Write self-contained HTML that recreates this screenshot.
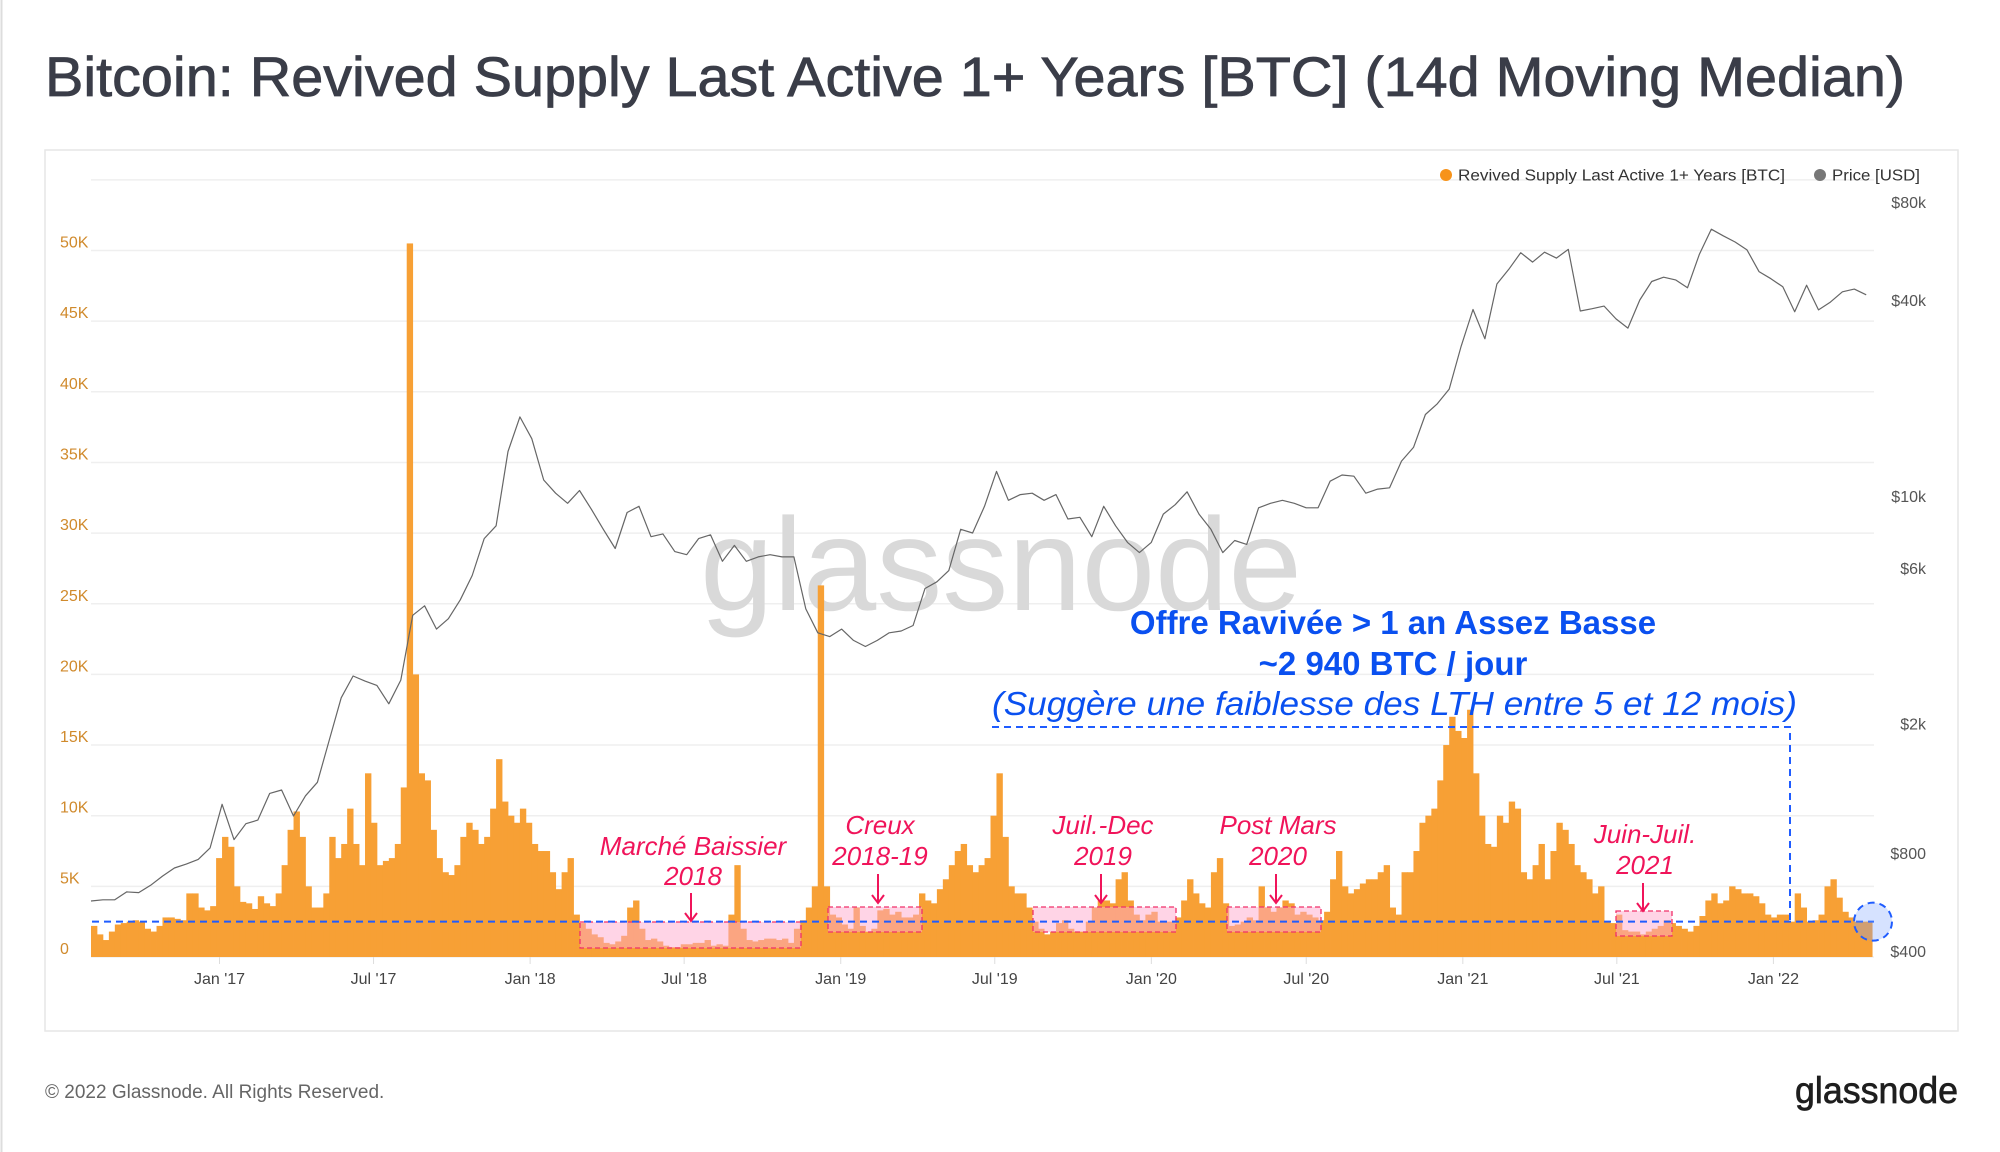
<!DOCTYPE html>
<html><head><meta charset="utf-8"><style>
html,body{margin:0;padding:0;background:#fff;}
svg{display:block;font-family:"Liberation Sans",sans-serif;}
</style></head><body>
<svg id="chart" width="2000" height="1152" viewBox="0 0 2000 1152" xmlns="http://www.w3.org/2000/svg">
<rect x="0" y="0" width="2000" height="1152" fill="#fff"/>
<line x1="1.5" y1="0" x2="1.5" y2="1152" stroke="#ddd" stroke-width="2"/>
<text x="45" y="96" font-size="56" fill="#3a3d48" stroke="#3a3d48" stroke-width="0.8" textLength="1860" lengthAdjust="spacingAndGlyphs">Bitcoin: Revived Supply Last Active 1+ Years [BTC] (14d Moving Median)</text>
<rect x="45" y="150" width="1913" height="881" fill="none" stroke="#e6e6e6" stroke-width="1.5"/>
<g id="grid"></g>
<text x="1001" y="610" font-size="132" fill="#d9d9d9" text-anchor="middle">glassnode</text>
<g id="bars"></g>
<g id="price"></g>
<g id="axes"></g>
<g id="annot"></g>
<g>
<circle cx="1446" cy="175" r="6" fill="#f7931a"/>
<text x="1458" y="180.5" font-size="15.5" fill="#333" textLength="327" lengthAdjust="spacingAndGlyphs">Revived Supply Last Active 1+ Years [BTC]</text>
<circle cx="1820" cy="175" r="6" fill="#777"/>
<text x="1832" y="180.5" font-size="15.5" fill="#333" textLength="88" lengthAdjust="spacingAndGlyphs">Price [USD]</text>
</g>
<text x="45" y="1098" font-size="19" fill="#666">© 2022 Glassnode. All Rights Reserved.</text>
<text x="1958" y="1103" font-size="37" fill="#1e1e1e" stroke="#1e1e1e" stroke-width="0.7" text-anchor="end" textLength="163" lengthAdjust="spacingAndGlyphs">glassnode</text>
</svg>
<script>
// weekly revived supply (K BTC), starting 2016-08-03
const supplyK = [2.2,1.6,1.2,1.8,2.3,2.4,2.5,2.6,2.5,2.0,1.8,2.2,2.8,2.8,2.7,2.6,4.5,4.5,3.5,3.3,3.6,7.0,8.5,7.8,5.0,3.9,3.8,3.4,4.3,3.8,3.6,4.5,6.5,9.0,10.3,8.5,5.0,3.5,3.5,4.5,8.5,7.0,8.0,10.5,8.0,6.5,13.0,9.5,6.5,6.8,7.0,8.0,12.0,50.5,20.0,13.0,12.5,9.0,7.0,6.0,5.8,6.5,8.5,9.5,9.0,8.0,8.5,10.5,14.0,11.0,10.0,9.5,10.5,9.5,8.0,7.5,7.5,6.0,4.8,6.0,7.0,3.0,2.4,2.0,1.6,1.4,1.0,0.9,1.1,1.5,3.5,4.0,2.0,1.2,1.3,1.1,0.8,0.7,0.7,0.9,0.9,1.0,1.0,1.2,
0.8,0.9,0.8,3.0,6.5,2.0,1.2,1.1,1.2,1.3,1.3,1.2,1.3,1.0,2.0,2.6,3.5,5.0,26.3,5.0,3.0,2.8,2.3,2.0,3.5,2.2,1.8,2.0,3.3,3.4,3.0,3.2,2.8,2.8,3.0,4.5,4.0,3.8,4.8,5.5,6.5,7.5,8.0,6.5,6.0,6.5,7.0,10.0,13.0,8.5,5.0,4.5,4.5,3.5,2.5,2.0,1.6,1.8,2.4,2.6,2.0,1.8,1.8,2.5,3.5,4.0,4.0,3.8,5.5,6.0,4.0,3.0,2.6,3.0,3.2,2.5,2.5,2.5,2.8,4.0,5.5,4.5,3.8,3.5,6.0,7.0,3.8,2.2,2.3,2.5,2.8,2.6,5.0,3.5,3.2,3.5,4.0,3.8,3.0,3.2,3.0,2.8,
2.6,3.2,5.5,7.5,5.0,4.5,4.8,5.2,5.5,5.5,6.0,6.5,3.5,3.0,6.0,6.0,7.5,9.5,10.0,10.5,12.5,15.0,17.0,16.0,15.5,17.5,13.0,10.0,8.0,7.8,10.0,9.5,11.0,10.5,6.0,5.5,6.5,8.0,5.5,7.5,9.5,9.0,8.0,6.5,6.0,5.5,4.5,5.0,2.5,2.4,3.0,1.9,1.8,1.8,1.6,1.8,2.0,2.2,2.6,2.4,2.2,2.0,1.8,2.2,2.9,4.0,4.5,3.8,4.0,5.0,4.8,4.5,4.5,4.3,3.8,3.0,2.8,3.0,3.0,2.5,4.5,3.5,2.5,2.6,3.0,5.0,5.5,4.2,3.2,2.8,2.5,2.5,2.5];
// biweekly price (USD), starting 2016-08-03
const priceUSD = [570,575,575,608,605,637,680,720,740,765,830,
1130,880,985,1010,1220,1250,1040,1200,1320,1780,2400,2800,2700,2620,2300,2720,4300,4600,3900,4200,4800,5700,7400,8100,13700,17500,
15000,11200,10200,9500,10400,9100,7900,6900,8900,9300,7500,7650,6750,6600,7400,7600,6300,7050,6300,6500,6600,6500,6500,4500,3800,3700,
3900,3600,3450,3600,3800,3850,4000,5200,5450,5900,7900,7700,9300,11900,9700,10100,10200,9700,10100,8500,8600,7500,9300,8100,7200,6700,
7200,8800,9400,10300,8800,7900,6700,7300,7100,9200,9500,9700,9500,9200,9200,11100,11600,11500,10200,10500,10600,12800,14100,17800,19200,21300,28800,
37400,30400,44800,49700,55900,52300,56100,53800,57200,37000,37600,38300,35000,32800,40000,45600,47000,46100,43600,55300,66000,63000,60300,57000,48900,46500,
43900,36800,44400,37300,39400,42400,43200,41500];
const leftTicks = [0,5,10,15,20,25,30,35,40,45,50];
const leftTickLabels = ["0","5K","10K","15K","20K","25K","30K","35K","40K","45K","50K"];
const rightTicks = [80000,40000,10000,6000,2000,800,400];
const rightTickLabels = ["$80k","$40k","$10k","$6k","$2k","$800","$400"];
const xTickDays = [151,332,516,697,881,1062,1246,1428,1612,1793,1977];
const xTickLabels = ["Jan '17","Jul '17","Jan '18","Jul '18","Jan '19","Jul '19","Jan '20","Jul '20","Jan '21","Jul '21","Jan '22"];
const thresholdK = 2.5;

const NS="http://www.w3.org/2000/svg";
const X0=91, PXDAY=0.851, Y0=957, PXK=14.13;
function xScale(day){return X0+day*PXDAY;}
function yLeft(k){return Y0-k*PXK;}
function yRight(p){return 300-98*Math.log2(p/40000);}
function mk(tag,attrs,parent){const e=document.createElementNS(NS,tag);for(const k in attrs)e.setAttribute(k,attrs[k]);parent.appendChild(e);return e;}

const grid=document.getElementById('grid');
for(let v=0;v<=55;v+=5){
  const l=mk('line',{x1:91,x2:1874,y1:yLeft(v),y2:yLeft(v),stroke:'#efefef','stroke-width':1.5},grid);
  
  
}
const axes=document.getElementById('axes');
leftTicks.forEach((v,i)=>{
  const t=mk('text',{x:60,y:yLeft(v)-3,'font-size':16,fill:'#d08a2c'},axes);
  t.textContent=leftTickLabels[i];
  
  
});
rightTicks.forEach((v,i)=>{
  const t=mk('text',{x:1926,y:yRight(v)+6,'font-size':16,fill:'#555','text-anchor':'end'},axes);
  t.textContent=rightTickLabels[i];
  
  
});
xTickDays.forEach((d,i)=>{
  const t=mk('text',{x:xScale(d),y:984,'font-size':16,fill:'#444','text-anchor':'middle'},axes);
  t.textContent=xTickLabels[i];
  
  
  const tk=mk('line',{x1:xScale(d),x2:xScale(d),y1:957,y2:964,stroke:'#ddd'},axes);
  
  
});

const bars=document.getElementById('bars');
const bw=7*PXDAY;
supplyK.forEach((v,i)=>{
  const x=xScale(i*7);
  const r=mk('rect',{x:x.toFixed(2),y:yLeft(v).toFixed(2),width:(bw+0.4).toFixed(2),height:(v*PXK).toFixed(2),fill:'#f7a035'},bars);
  
  
});

const pg=document.getElementById('price');
const pts=priceUSD.map((p,i)=>xScale(i*14).toFixed(1)+','+yRight(p).toFixed(1)).join(' ');
const pl=mk('polyline',{points:pts,fill:'none',stroke:'#666','stroke-width':1.2,'stroke-linejoin':'round'},pg);



const an=document.getElementById('annot');
const boxes=[[580,801,922,948],[828,922,907,932],[1033,1176,907,932],[1227,1321,907,932],[1616,1672,911,936]];
boxes.forEach(b=>{
  const r=mk('rect',{x:b[0],y:b[2],width:b[1]-b[0],height:b[3]-b[2],fill:'rgba(255,170,205,0.5)',stroke:'#f0306a','stroke-width':1.3,'stroke-dasharray':'5,3'},an);
  
  
});
const thr=mk('line',{x1:92,x2:1874,y1:yLeft(thresholdK),y2:yLeft(thresholdK),stroke:'#1f5cff','stroke-width':2,'stroke-dasharray':'7,5'},an);


const bx=mk('polyline',{points:'992,727 1790,727 1790,'+yLeft(thresholdK),fill:'none',stroke:'#1f5cff','stroke-width':2,'stroke-dasharray':'7,5'},an);


const circ=mk('circle',{cx:1873,cy:yLeft(thresholdK),r:19,fill:'rgba(120,160,255,0.3)',stroke:'#1f5cff','stroke-width':2,'stroke-dasharray':'7,5'},an);


const labels=[["Marché Baissier","2018",693,846,876,893,921],["Creux","2018-19",880,825,856,874,903],["Juil.-Dec","2019",1103,825,856,874,903],["Post Mars","2020",1278,825,856,874,903],["Juin-Juil.","2021",1645,834,865,883,911]];
labels.forEach(l=>{
  const t1=mk('text',{x:l[2],y:l[3]+9,'font-size':26,'font-style':'italic',fill:'#f0145a','text-anchor':'middle'},an);
  t1.textContent=l[0];
  
  
  const t2=mk('text',{x:l[2],y:l[4]+9,'font-size':26,'font-style':'italic',fill:'#f0145a','text-anchor':'middle'},an);
  t2.textContent=l[1];
  
  
  const ax=l[2]-2;
  const a=mk('path',{d:`M${ax},${l[5]} L${ax},${l[6]} M${ax-6},${l[6]-8} L${ax},${l[6]} L${ax+6},${l[6]-8}`,fill:'none',stroke:'#f0145a','stroke-width':2},an);
  
  
});
const c1=mk('text',{x:1393,y:634,'font-size':33,'font-weight':'bold',fill:'#0a50f0','text-anchor':'middle'},an);
c1.textContent='Offre Ravivée > 1 an Assez Basse';


const c2=mk('text',{x:1393,y:675,'font-size':33,'font-weight':'bold',fill:'#0a50f0','text-anchor':'middle'},an);
c2.textContent='~2 940 BTC / jour';


const c3=mk('text',{x:992,y:715,'font-size':33,'font-style':'italic',fill:'#0a50f0',textLength:805,lengthAdjust:'spacingAndGlyphs'},an);
c3.textContent='(Suggère une faiblesse des LTH entre 5 et 12 mois)';


</script>
</body></html>
